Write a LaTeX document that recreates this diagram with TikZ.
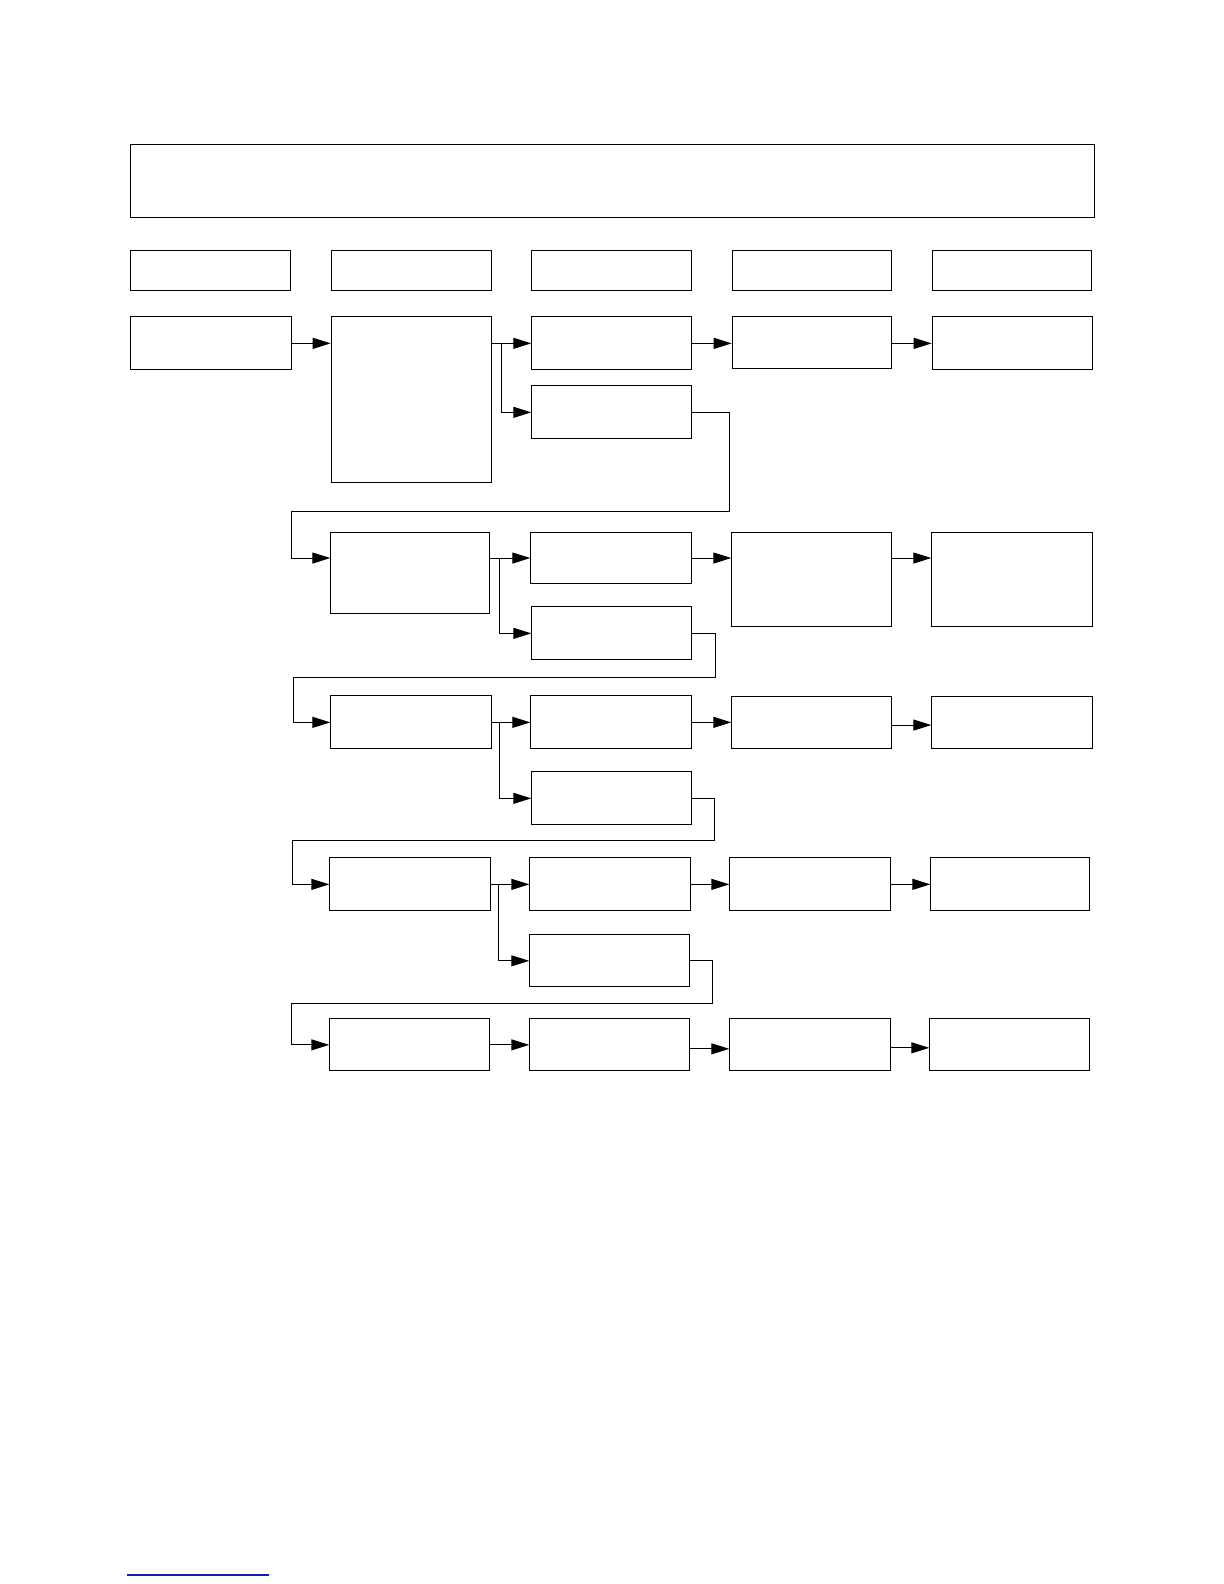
\documentclass[tikz,border=0pt]{standalone}
\usetikzlibrary{arrows.meta}
\definecolor{rulecol}{RGB}{20,30,170}
\tikzset{
  box/.style={draw=black, line width=0.55pt, rectangle, inner sep=0pt, anchor=north west},
  arr/.style={draw=black, line width=0.55pt, -{Triangle[length=9pt,width=5.5pt]}}
}
\newcommand\bx[5]{\node[box, minimum width={(#4-#2)*0.5pt}, minimum height={(#5-#3)*0.5pt}] (#1) at (#2,#3) {};}
\begin{document}
\begin{tikzpicture}[x=0.5pt,y=-0.5pt]
\useasboundingbox (0,0) rectangle (1224,1584);
% top box
\bx{top}{130.3}{144.3}{1094.3}{216.7}
% header row
\bx{h1}{130.3}{250.3}{289.7}{290.3}
\bx{h2}{330.7}{250.3}{490.7}{290.3}
\bx{h3}{531.3}{250.3}{690.7}{290.3}
\bx{h4}{731.7}{250.3}{890.7}{290.3}
\bx{h5}{931.7}{250.3}{1090.7}{290.3}
% row 1
\bx{A}{130.3}{316.3}{290.7}{369.3}
\bx{B}{330.7}{316.3}{490.7}{482.3}
\bx{C}{531.3}{316.3}{690.7}{369.3}
\bx{C2}{531.3}{385.3}{690.7}{438.3}
\bx{D}{731.7}{316.3}{890.7}{368.3}
\bx{E}{931.7}{316.3}{1091.7}{369.3}
% row 2
\bx{F}{330.3}{531.7}{488.7}{613.3}
\bx{G}{530.3}{531.7}{690.7}{583.3}
\bx{G2}{531.3}{606.3}{690.7}{659.3}
\bx{H}{731.3}{531.7}{890.7}{626.3}
\bx{I}{931.3}{531.7}{1091.7}{626.3}
% row 3
\bx{J}{330.3}{695.3}{490.7}{748.3}
\bx{K}{530.3}{695.3}{690.7}{748.3}
\bx{K2}{531.3}{771.3}{690.7}{824.3}
\bx{L}{731.3}{695.7}{890.7}{748.3}
\bx{M}{931.3}{695.7}{1091.7}{748.3}
% row 4
\bx{N}{329.3}{857.3}{489.7}{910.3}
\bx{O}{529.3}{857.3}{689.7}{910.3}
\bx{O2}{529.3}{934.3}{689.3}{986.3}
\bx{P}{729.3}{857.3}{889.7}{910.3}
\bx{Q}{930.3}{857.3}{1089.3}{910.3}
% row 5
\bx{R}{329.3}{1018.3}{488.7}{1070.3}
\bx{S}{529.3}{1018.3}{688.7}{1070.3}
\bx{T}{729.3}{1018.3}{889.7}{1070.3}
\bx{U}{929.3}{1018.3}{1089.3}{1070.3}
% loop-back corner points
\coordinate (r1) at (729.7,511.3); \coordinate (l1) at (291.3,511.3);
\coordinate (r2) at (715.7,677.3); \coordinate (l2) at (293.3,677.3);
\coordinate (r3) at (714.7,840.3); \coordinate (l3) at (292.7,840.3);
\coordinate (r4) at (712.3,1003.3); \coordinate (l4) at (291.7,1003.3);
% row 1 connectors
\draw[arr] (A.east) -- (B.west |- A.east);
\draw[arr] (B.east |- C.west) -- (C.west);
\draw[arr] (B.east |- C.west) -- ++(9.6,0) |- (C2.west);
\draw[arr] (C.east) -- (D.west |- C.east);
\draw[arr] (D.east |- C.east) -- (E.west |- C.east);
\draw[arr] (C2.east) -| (r1) -- (l1) |- (F.west |- G.west);
% row 2 connectors
\draw[arr] (F.east |- G.west) -- (G.west);
\draw[arr] (F.east |- G.west) -- ++(10,0) |- (G2.west);
\draw[arr] (G.east) -- (H.west |- G.east);
\draw[arr] (H.east |- G.east) -- (I.west |- G.east);
\draw[arr] (G2.east) -| (r2) -- (l2) |- (J.west);
% row 3 connectors
\draw[arr] (J.east) -- (K.west);
\draw[arr] (J.east) -- ++(8,0) |- (K2.west);
\draw[arr] (K.east) -- (L.west |- K.east);
\draw[arr] ([yshift=-1.25pt]L.east) -- ([yshift=-1.25pt]M.west);
\draw[arr] (K2.east) -| (r3) -- (l3) |- (N.west);
% row 4 connectors
\draw[arr] (N.east) -- (O.west);
\draw[arr] (N.east) -- ++(8,0) |- (O2.west);
\draw[arr] (O.east) -- (P.west);
\draw[arr] (P.east) -- (Q.west);
\draw[arr] (O2.east) -| (r4) -- (l4) |- (R.west);
% row 5 connectors
\draw[arr] (R.east) -- (S.west);
\draw[arr] ([yshift=-2pt]S.east) -- ([yshift=-2pt]T.west);
\draw[arr] ([yshift=-1.5pt]T.east) -- ([yshift=-1.5pt]U.west);
% footnote rule
\draw[draw=rulecol, line width=0.6pt] (127,1575) -- (269,1575);
\end{tikzpicture}
\end{document}
